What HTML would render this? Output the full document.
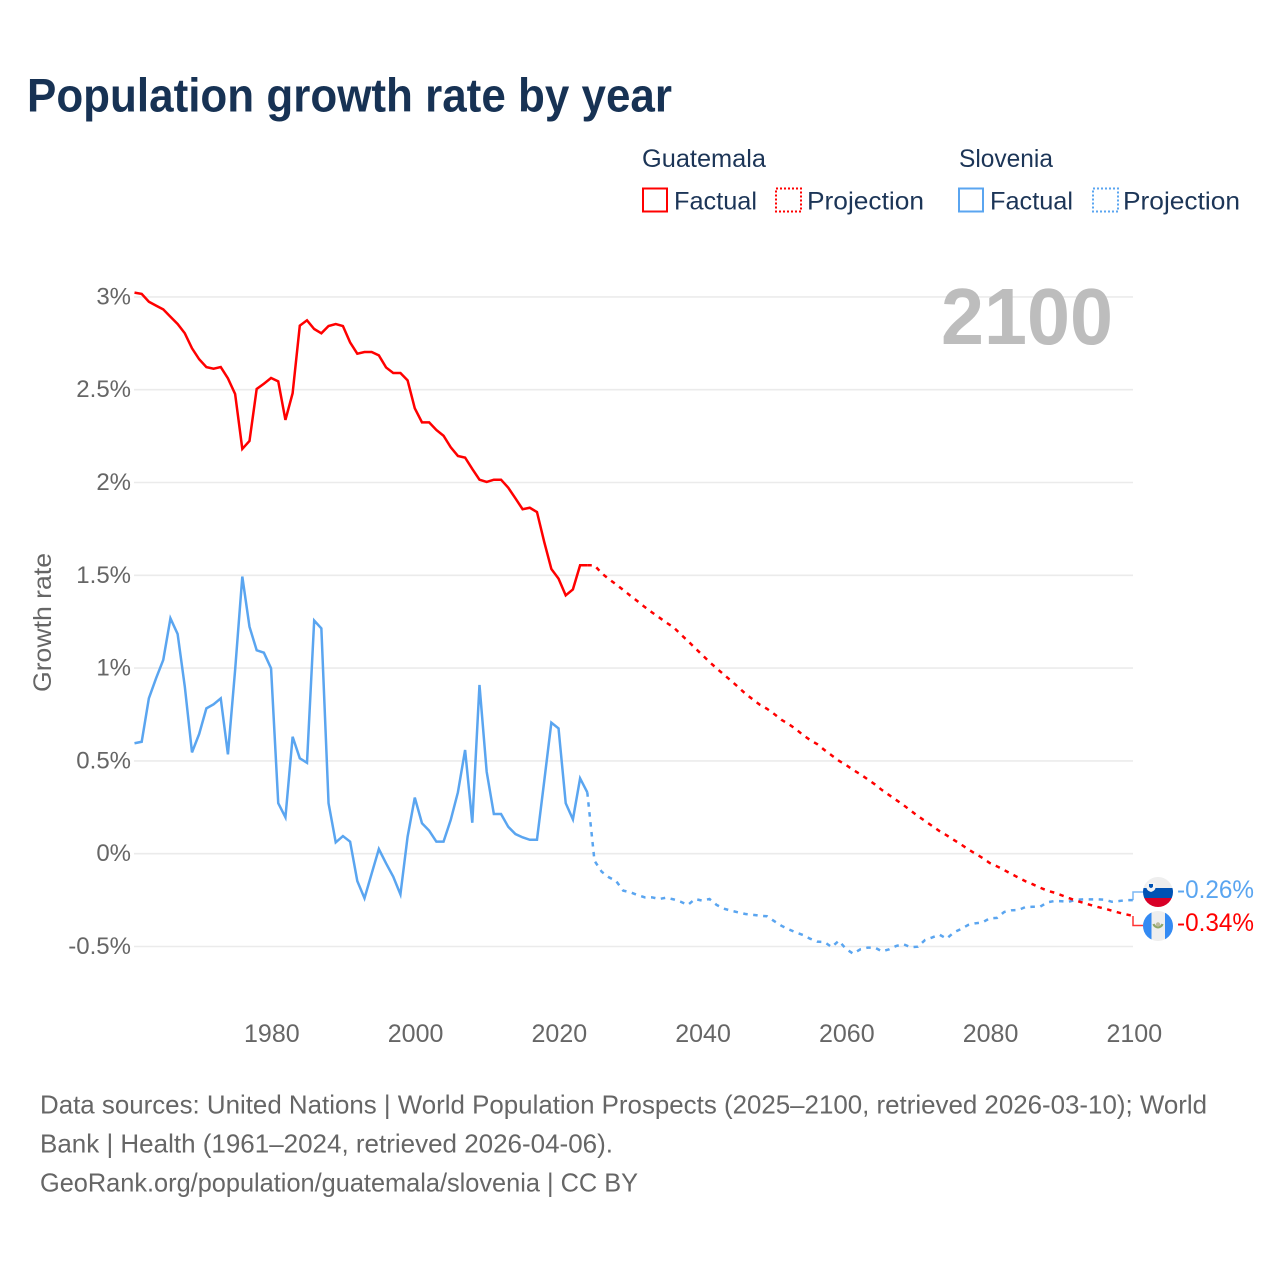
<!DOCTYPE html>
<html lang="en">
<head>
<meta charset="utf-8">
<title>Population growth rate by year</title>
<style>
html,body{margin:0;padding:0;background:#fff;}
svg{display:block;font-family:"Liberation Sans",Arial,sans-serif;}
</style>
</head>
<body>
<svg id="chart" width="1280" height="1280" viewBox="0 0 1280 1280" xmlns="http://www.w3.org/2000/svg">
  <rect x="0" y="0" width="1280" height="1280" fill="#ffffff"/>
  <text x="27" y="111.5" font-size="47" font-weight="700" fill="#173254" textLength="645" lengthAdjust="spacingAndGlyphs">Population growth rate by year</text>

  <g font-size="25" fill="#1c3557">
    <text x="642" y="167" textLength="124" lengthAdjust="spacingAndGlyphs">Guatemala</text>
    <text x="959" y="167" textLength="94" lengthAdjust="spacingAndGlyphs">Slovenia</text>
    <rect x="643" y="188.5" width="24" height="23" fill="none" stroke="#ff0000" stroke-width="2"/>
    <text x="674" y="209.5" textLength="83" lengthAdjust="spacingAndGlyphs">Factual</text>
    <rect x="776" y="188.5" width="25" height="23" fill="none" stroke="#ff0000" stroke-width="2" stroke-dasharray="2 2"/>
    <text x="807" y="209.5" textLength="117" lengthAdjust="spacingAndGlyphs">Projection</text>
    <rect x="959" y="188.5" width="24" height="23" fill="none" stroke="#5aa5f0" stroke-width="2"/>
    <text x="990" y="209.5" textLength="83" lengthAdjust="spacingAndGlyphs">Factual</text>
    <rect x="1093" y="188.5" width="25" height="23" fill="none" stroke="#5aa5f0" stroke-width="2" stroke-dasharray="2 2"/>
    <text x="1123" y="209.5" textLength="117" lengthAdjust="spacingAndGlyphs">Projection</text>
  </g>

  <g id="grid"></g>
  <g id="yticks"></g>
  <g id="xticks"></g>

  <text transform="translate(51,692) rotate(-90)" font-size="25" fill="#666666" textLength="139" lengthAdjust="spacingAndGlyphs">Growth rate</text>
  <text id="yearLabel" x="941" y="344" font-size="80" font-weight="700" fill="#bdbdbd" textLength="172" lengthAdjust="spacingAndGlyphs">2100</text>

  <g id="series"></g>

  <defs>
    <clipPath id="clip-si"><circle cx="1158" cy="892" r="15"/></clipPath>
    <clipPath id="clip-gt"><circle cx="1158" cy="926" r="15"/></clipPath>
  </defs>
  <g clip-path="url(#clip-si)">
    <rect x="1143" y="877" width="30" height="11" fill="#eeeeee"/>
    <rect x="1143" y="888" width="30" height="10" fill="#0052b4"/>
    <rect x="1143" y="898" width="30" height="10" fill="#d80027"/>
    <path d="M1146.5 883h9v4.5q0 3-4.5 4.5q-4.500-1.500-4.500-4.500z" fill="#f4f4f4"/>
    <path d="M1149 884h4v2.200q0 1.200-2 1.800q-2-.6-2-1.800z" fill="#0052b4"/>
  </g>
  <g clip-path="url(#clip-gt)">
    <rect x="1143" y="911" width="30" height="30" fill="#eeeeee"/>
    <rect x="1143" y="911" width="8.500" height="30" fill="#338af3"/>
    <rect x="1165" y="911" width="8" height="30" fill="#338af3"/>
    <path d="M1153.500 924a4.700 4.700 0 0 0 9 0" fill="none" stroke="#8ea86a" stroke-width="2.200"/>
    <circle cx="1158" cy="924.500" r="2.200" fill="#bdbb9c"/>
  </g>

  <g id="endLabels"></g>

  <g font-size="26" fill="#666666">
    <text x="40" y="1113.500" textLength="1167" lengthAdjust="spacingAndGlyphs">Data sources: United Nations | World Population Prospects (2025–2100, retrieved 2026-03-10); World</text>
    <text x="40" y="1152.500" textLength="573" lengthAdjust="spacingAndGlyphs">Bank | Health (1961–2024, retrieved 2026-04-06).</text>
    <text x="40" y="1191.500" textLength="598" lengthAdjust="spacingAndGlyphs">GeoRank.org/population/guatemala/slovenia | CC BY</text>
  </g>
</svg>
<script>
const firstFactualYear = 1961;
const firstProjectionYear = 2025;
const yTickValues = [3, 2.5, 2, 1.5, 1, 0.5, 0, -0.5];
const yTickLabels = ["3%", "2.5%", "2%", "1.5%", "1%", "0.5%", "0%", "-0.5%"];
const xTickYears = [1980, 2000, 2020, 2040, 2060, 2080, 2100];
const guatemalaFactual = [
3.023,3.016,2.974,2.953,2.933,2.893,2.854,2.804,2.723,2.664,
2.622,2.613,2.622,2.561,2.477,2.181,2.224,2.504,2.532,2.563,
2.545,2.337,2.481,2.845,2.874,2.827,2.804,2.843,2.854,2.843,
2.755,2.694,2.703,2.703,2.685,2.62,2.59,2.59,2.55,2.40,
2.324,2.324,2.283,2.252,2.19,2.143,2.134,2.073,2.015,2.003,
2.015,2.015,1.972,1.915,1.856,1.864,1.841,1.681,1.534,1.482,
1.392,1.424,1.554,1.554];
const guatemalaProjection = [
1.554,1.511,1.48,1.451,1.421,1.39,1.36,1.329,1.3,1.273,
1.245,1.22,1.182,1.146,1.108,1.071,1.033,0.999,0.965,0.932,
0.898,0.862,0.832,0.803,0.781,0.753,0.722,0.699,0.672,0.64,
0.613,0.59,0.559,0.53,0.501,0.478,0.451,0.428,0.401,0.374,
0.343,0.316,0.289,0.262,0.232,0.203,0.176,0.149,0.122,0.099,
0.074,0.05,0.024,0,-0.023,-0.05,-0.068,-0.088,-0.109,-0.129,
-0.149,-0.165,-0.183,-0.199,-0.21,-0.224,-0.239,-0.253,-0.264,-0.276,
-0.287,-0.296,-0.307,-0.318,-0.327,-0.336];
const sloveniaFactual = [
0.595,0.603,0.837,0.945,1.044,1.268,1.184,0.90,0.546,0.645,
0.783,0.805,0.837,0.535,0.99,1.493,1.223,1.096,1.083,0.999,
0.272,0.196,0.63,0.514,0.49,1.256,1.214,0.272,0.061,0.095,
0.065,-0.147,-0.24,-0.107,0.025,-0.052,-0.124,-0.219,0.092,0.302,
0.164,0.124,0.065,0.065,0.182,0.331,0.559,0.167,0.909,0.442,
0.214,0.214,0.145,0.106,0.088,0.075,0.075,0.388,0.706,0.675,
0.272,0.185,0.406,0.331];
const sloveniaProjection = [
-0.038,-0.097,-0.127,-0.147,-0.199,-0.208,-0.223,-0.235,-0.235,-0.244,
-0.237,-0.246,-0.259,-0.276,-0.244,-0.253,-0.244,-0.276,-0.296,-0.307,
-0.316,-0.325,-0.329,-0.334,-0.337,-0.363,-0.388,-0.407,-0.424,-0.438,
-0.458,-0.474,-0.476,-0.503,-0.469,-0.513,-0.539,-0.515,-0.506,-0.506,
-0.526,-0.515,-0.497,-0.488,-0.504,-0.501,-0.465,-0.451,-0.436,-0.458,
-0.424,-0.406,-0.384,-0.375,-0.37,-0.348,-0.346,-0.314,-0.305,-0.303,
-0.287,-0.286,-0.286,-0.262,-0.255,-0.256,-0.259,-0.248,-0.246,-0.246,
-0.246,-0.248,-0.259,-0.255,-0.25,-0.25];
const endLabelSlovenia = "-0.26%";
const endLabelGuatemala = "-0.34%";

const NS = "http://www.w3.org/2000/svg";
function xScale(year){ return 134.5 + (year - 1961) * (999 / 139); }
function yScale(v){ return 853.7 - v * 185.6; }
function make(tag, parentId){
  const el = document.createElementNS(NS, tag);
  document.getElementById(parentId).appendChild(el);
  return el;
}
function pointsFor(values, startYear){
  return values.map(function(v, i){ return xScale(startYear + i).toFixed(2) + "," + yScale(v).toFixed(2); });
}

yTickValues.forEach(function(v, i){
  const line = make("line", "grid");
  
  
  line.setAttribute("x1", 134);
  line.setAttribute("x2", 1133);
  line.setAttribute("y1", yScale(v));
  line.setAttribute("y2", yScale(v));
  line.setAttribute("stroke", "#ebebeb");
  line.setAttribute("stroke-width", "1.6");
  const label = make("text", "yticks");
  
  
  label.setAttribute("x", 131);
  label.setAttribute("y", yScale(v) + 7.5);
  label.setAttribute("text-anchor", "end");
  label.setAttribute("font-size", "24");
  label.setAttribute("fill", "#666666");
  label.textContent = yTickLabels[i];
});

xTickYears.forEach(function(year){
  const label = make("text", "xticks");
  
  
  label.setAttribute("x", xScale(year) + 0.8);
  label.setAttribute("y", 1042);
  label.setAttribute("text-anchor", "middle");
  label.setAttribute("font-size", "25");
  label.setAttribute("fill", "#666666");
  label.textContent = String(year);
});

function drawLine(name, pts, color, dash){
  const line = make("polyline", "series");
  
  
  line.setAttribute("points", pts.join(" "));
  line.setAttribute("fill", "none");
  line.setAttribute("stroke", color);
  line.setAttribute("stroke-width", "2.5");
  line.setAttribute("stroke-linejoin", "miter");
  if (dash) line.setAttribute("stroke-dasharray", dash);
}
const RED = "#ff0000";
const BLUE = "#5aa5f0";
const sloLastFactual = sloveniaFactual[sloveniaFactual.length - 1];
const gtmLastFactual = guatemalaFactual[guatemalaFactual.length - 1];
drawLine("slovenia-factual-line", pointsFor(sloveniaFactual, firstFactualYear), BLUE);
drawLine("slovenia-projection-line", pointsFor([sloLastFactual].concat(sloveniaProjection), firstProjectionYear - 1), BLUE, "4.5 5.5");
drawLine("guatemala-factual-line", pointsFor(guatemalaFactual, firstFactualYear), RED);
drawLine("guatemala-projection-line", pointsFor([gtmLastFactual].concat(guatemalaProjection), firstProjectionYear - 1), RED, "4.5 5.5");

function drawConnector(name, lastValue, flagY, color){
  const path = make("path", "series");
  
  
  path.setAttribute("d", "M1133 " + yScale(lastValue).toFixed(2) + "V" + flagY + "H1143");
  path.setAttribute("fill", "none");
  path.setAttribute("stroke", color);
  path.setAttribute("stroke-width", "1.5");
  path.setAttribute("opacity", "0.8");
}
drawConnector("slovenia-end-connector", sloveniaProjection[sloveniaProjection.length - 1], 892, BLUE);
drawConnector("guatemala-end-connector", guatemalaProjection[guatemalaProjection.length - 1], 925.5, RED);

function drawEndLabel(name, text, y, color){
  const label = make("text", "endLabels");
  
  
  label.setAttribute("x", 1177);
  label.setAttribute("y", y);
  label.setAttribute("font-size", "25");
  label.setAttribute("fill", color);
  label.setAttribute("textLength", "77");
  label.setAttribute("lengthAdjust", "spacingAndGlyphs");
  label.textContent = text;
}
drawEndLabel("slovenia-end-value", endLabelSlovenia, 898, BLUE);
drawEndLabel("guatemala-end-value", endLabelGuatemala, 931, RED);
</script>
</body>
</html>
